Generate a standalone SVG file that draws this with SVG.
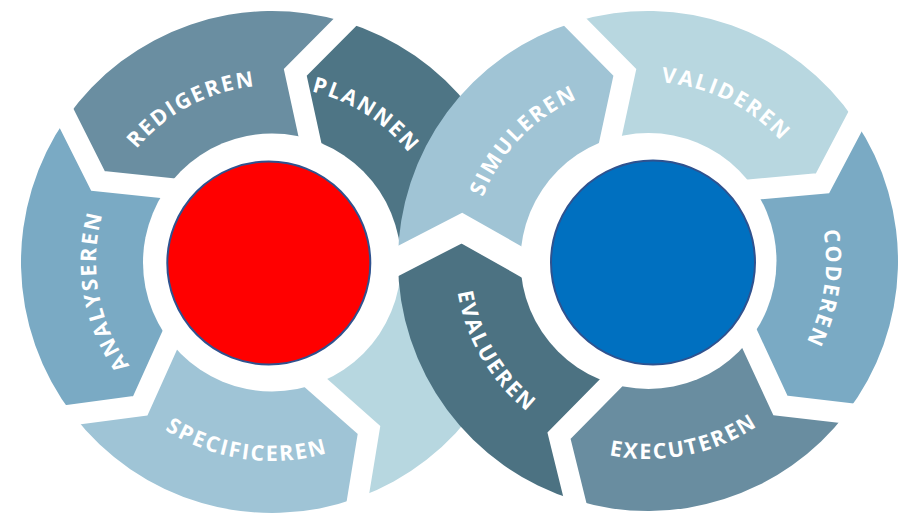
<svg xmlns="http://www.w3.org/2000/svg" width="899" height="519" viewBox="0 0 899 519">
<defs>
<style>
.lbl{fill:#fff;font-family:"Open Sans","Liberation Sans",Arial,sans-serif;font-weight:700;font-size:21.5px;letter-spacing:2px}
.gap{fill:none;stroke:#fff;stroke-width:21;stroke-linecap:square;stroke-linejoin:miter;stroke-miterlimit:10}
.hole{fill:#fff}
.core{stroke:#2f528f;stroke-width:2}
</style>
<path id="tp-redigeren" d="M103.86,315.66 A176.5,176.5 0 0 1 411.65,154.06"/>
<path id="tp-plannen" d="M142.98,143.77 A175,175 0 0 1 433.68,328.97"/>
<path id="tp-analyseren" d="M272,438 A176,176 0 0 1 211.8,96.61"/>
<path id="tp-specificeren" d="M73.12,268.95 A199,199 0 0 0 461.26,323.49"/>
<path id="tp-simuleren" d="M504.8,365.04 A177,177 0 0 1 746.98,114.26"/>
<path id="tp-valideren" d="M503.74,155.03 A179,179 0 0 1 819.81,311.24"/>
<path id="tp-coderen" d="M705.36,92.5 A178,178 0 0 1 651.73,438.96"/>
<path id="tp-executeren" d="M463.53,332.92 A198,198 0 0 0 845.95,256.51"/>
<path id="tp-evalueren" d="M522.66,114.24 A193,193 0 0 0 715.59,441.78"/>
</defs>
<rect width="899" height="519" fill="#fff"/>

<!-- left ring -->
<g id="plannen">
<path fill="#4e7585" d="M272,262 L309.72,138.64 L295.28,72.42 L345.38,21.97 A251,251 0 0 1 522.85,253.24 Z"/>
<text class="lbl"><textPath href="#tp-plannen" startOffset="50%" text-anchor="middle">PLANNEN</textPath></text>
</g>
<g id="redigeren">
<path fill="#6a8ea1" d="M272,262 L166.33,188.01 L97.99,180.86 L66.39,118.03 A251,251 0 0 1 345.38,21.97 L295.28,72.42 L309.72,138.64 Z"/>
<text class="lbl"><textPath href="#tp-redigeren" startOffset="50%" text-anchor="middle">REDIGEREN</textPath></text>
</g>
<g id="analyseren">
<path fill="#7aaac4" d="M272,262 L169.66,340.53 L140.26,405.77 L72.87,414.8 A251,251 0 0 1 66.39,118.03 L97.99,180.86 L166.33,188.01 Z"/>
<text class="lbl"><textPath href="#tp-analyseren" startOffset="50%" text-anchor="middle">ANALYSEREN</textPath></text>
</g>
<g id="specificeren">
<path fill="#9fc4d6" d="M272,262 L316.12,383.22 L369,430.01 L357.85,497.86 A251,251 0 0 1 72.87,414.8 L140.26,405.77 L169.66,340.53 Z"/>
<text class="lbl"><textPath href="#tp-specificeren" startOffset="50%" text-anchor="middle">SPECIFICEREN</textPath></text>
</g>
<g id="overgang">
<path fill="#b7d7e0" d="M272,262 L522.85,253.24 A251,251 0 0 1 357.85,497.86 L369,430.01 L316.12,383.22 Z"/>
</g>
<circle class="hole" cx="272" cy="262.5" r="129"/>
<g id="gaps-left">
<path class="gap" d="M309.72,138.64 L295.28,72.42 L345.38,21.97"/>
<path class="gap" d="M166.33,188.01 L97.99,180.86 L66.39,118.03"/>
<path class="gap" d="M169.66,340.53 L140.26,405.77 L72.87,414.8"/>
<path class="gap" d="M316.12,383.22 L369,430.01 L357.85,497.86"/>
</g>

<!-- right ring -->
<g id="simuleren">
<path fill="#a0c4d5" d="M648,261 L520,261 L461.87,228.18 L398,261 A250,250 0 0 1 574.91,21.92 L624.84,72.42 L610.58,138.59 Z"/>
<text class="lbl"><textPath href="#tp-simuleren" startOffset="50%" text-anchor="middle">SIMULEREN</textPath></text>
</g>
<g id="valideren">
<path fill="#b8d7e0" d="M648,261 L610.58,138.59 L624.84,72.42 L574.91,21.92 A250,250 0 0 1 855.26,121.2 L822.49,183.31 L754.12,189.42 Z"/>
<text class="lbl"><textPath href="#tp-valideren" startOffset="50%" text-anchor="middle">VALIDEREN</textPath></text>
</g>
<g id="coderen">
<path fill="#7aaac4" d="M648,261 L754.12,189.42 L822.49,183.31 L855.26,121.2 A250,250 0 0 1 846.34,413.19 L780.42,405.51 L749.55,338.92 Z"/>
<text class="lbl"><textPath href="#tp-coderen" startOffset="50%" text-anchor="middle">CODEREN</textPath></text>
</g>
<g id="executeren">
<path fill="#698da0" d="M648,261 L749.55,338.92 L780.42,405.51 L846.34,413.19 A250,250 0 0 1 574.91,500.08 L559.02,435.64 L610.58,383.41 Z"/>
<text class="lbl"><textPath href="#tp-executeren" startOffset="50%" text-anchor="middle">EXECUTEREN</textPath></text>
</g>
<g id="evalueren">
<path fill="#4c7282" d="M648,261 L610.58,383.41 L559.02,435.64 L574.91,500.08 A250,250 0 0 1 398,261 L461.87,228.18 L520,261 Z"/>
<text class="lbl"><textPath href="#tp-evalueren" startOffset="50%" text-anchor="middle">EVALUEREN</textPath></text>
</g>
<circle class="hole" cx="648.5" cy="261" r="128"/>
<g id="gaps-right">
<path class="gap" style="stroke-width:27" d="M520,261 L461.87,228.18 L398,261"/>
<path class="gap" d="M610.58,138.59 L624.84,72.42 L574.91,21.92"/>
<path class="gap" d="M754.12,189.42 L822.49,183.31 L855.26,121.2"/>
<path class="gap" d="M749.55,338.92 L780.42,405.51 L846.34,413.19"/>
<path class="gap" d="M610.58,383.41 L559.02,435.64 L574.91,500.08"/>
</g>

<g id="red-core"><circle class="core" cx="268.8" cy="263" r="101.5" fill="#ff0000"/></g>
<g id="blue-core"><circle class="core" cx="653" cy="262.5" r="102" fill="#0070c0"/></g>
</svg>
